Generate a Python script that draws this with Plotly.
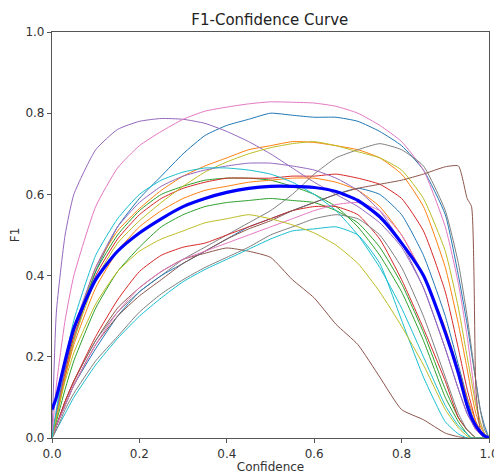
import plotly.graph_objects as go

# confidence grid shared by every curve
conf = [0, 0.01, 0.03, 0.05, 0.1, 0.15, 0.2, 0.25, 0.3, 0.35, 0.4, 0.45, 0.5, 0.55,
        0.6, 0.65, 0.7, 0.75, 0.8, 0.85, 0.9, 0.93, 0.95, 0.96, 0.97, 0.98, 0.99, 1.0]

# per-class F1 values
f1_purple_a = [0, 0.31, 0.50, 0.60, 0.71, 0.76, 0.78, 0.787, 0.785, 0.775, 0.755, 0.73, 0.70, 0.665,
               0.63, 0.60, 0.57, 0.53, 0.47, 0.37, 0.22, 0.12, 0.06, 0.04, 0.02, 0.01, 0, 0]
f1_pink_a = [0, 0.13, 0.29, 0.40, 0.57, 0.665, 0.72, 0.755, 0.785, 0.805, 0.815, 0.823, 0.828, 0.827,
             0.825, 0.817, 0.80, 0.77, 0.73, 0.66, 0.52, 0.38, 0.25, 0.17, 0.09, 0.04, 0.01, 0]
f1_blue_a = [0, 0.05, 0.15, 0.24, 0.41, 0.52, 0.59, 0.645, 0.70, 0.745, 0.77, 0.785, 0.80, 0.795,
             0.79, 0.79, 0.78, 0.755, 0.72, 0.66, 0.55, 0.40, 0.28, 0.21, 0.14, 0.07, 0.03, 0]
f1_orange_a = [0, 0.06, 0.17, 0.26, 0.42, 0.51, 0.565, 0.61, 0.645, 0.67, 0.69, 0.71, 0.72, 0.73,
               0.728, 0.72, 0.71, 0.69, 0.65, 0.57, 0.42, 0.28, 0.17, 0.11, 0.06, 0.03, 0.01, 0]
f1_olive_a = [0, 0.05, 0.15, 0.24, 0.39, 0.48, 0.535, 0.58, 0.62, 0.655, 0.68, 0.70, 0.715, 0.725,
              0.73, 0.72, 0.705, 0.69, 0.66, 0.59, 0.46, 0.32, 0.20, 0.14, 0.08, 0.04, 0.01, 0]
f1_gray_a = [0, 0.03, 0.09, 0.14, 0.24, 0.31, 0.36, 0.40, 0.44, 0.47, 0.50, 0.53, 0.56, 0.60,
             0.65, 0.69, 0.71, 0.725, 0.71, 0.67, 0.56, 0.43, 0.30, 0.22, 0.14, 0.07, 0.02, 0]
f1_brown_a = [0, 0.03, 0.09, 0.14, 0.24, 0.32, 0.37, 0.41, 0.44, 0.455, 0.468, 0.46, 0.445, 0.39,
              0.345, 0.28, 0.23, 0.15, 0.07, 0.045, 0.012, 0.003, 0, 0, 0, 0, 0, 0]
f1_cyan_a = [0, 0.02, 0.06, 0.10, 0.18, 0.245, 0.30, 0.345, 0.385, 0.415, 0.44, 0.465, 0.49, 0.51,
             0.515, 0.52, 0.50, 0.43, 0.29, 0.15, 0.04, 0.01, 0, 0, 0, 0, 0, 0]
f1_olive_b = [0, 0.05, 0.14, 0.21, 0.33, 0.41, 0.46, 0.49, 0.51, 0.53, 0.54, 0.55, 0.54, 0.525,
              0.505, 0.475, 0.43, 0.36, 0.275, 0.18, 0.07, 0.025, 0.005, 0, 0, 0, 0, 0]
f1_green_a = [0, 0.06, 0.17, 0.26, 0.41, 0.50, 0.56, 0.60, 0.62, 0.635, 0.64, 0.64, 0.635, 0.62,
              0.60, 0.57, 0.52, 0.45, 0.36, 0.24, 0.10, 0.04, 0.01, 0, 0, 0, 0, 0]
f1_red_a = [0, 0.06, 0.16, 0.25, 0.40, 0.49, 0.55, 0.59, 0.615, 0.63, 0.64, 0.64, 0.64, 0.645,
            0.645, 0.65, 0.64, 0.625, 0.59, 0.51, 0.36, 0.22, 0.12, 0.08, 0.04, 0.015, 0.005, 0]
f1_purple_b = [0, 0.06, 0.17, 0.27, 0.42, 0.52, 0.58, 0.62, 0.645, 0.66, 0.67, 0.677, 0.677, 0.67,
               0.66, 0.64, 0.61, 0.56, 0.48, 0.37, 0.22, 0.12, 0.06, 0.04, 0.02, 0.01, 0, 0]
f1_brown_b = [0, 0.03, 0.08, 0.13, 0.23, 0.30, 0.35, 0.39, 0.43, 0.46, 0.49, 0.515, 0.535, 0.56,
              0.58, 0.60, 0.615, 0.625, 0.635, 0.65, 0.668, 0.67, 0.59, 0.57, 0.12, 0.02, 0, 0]
f1_red_b = [0, 0.03, 0.09, 0.14, 0.25, 0.34, 0.41, 0.45, 0.47, 0.48, 0.50, 0.52, 0.54, 0.56,
            0.57, 0.57, 0.55, 0.49, 0.39, 0.27, 0.14, 0.05, 0.02, 0.01, 0, 0, 0, 0]
f1_gray_b = [0, 0.02, 0.07, 0.11, 0.19, 0.25, 0.31, 0.355, 0.39, 0.42, 0.445, 0.47, 0.50, 0.52,
             0.54, 0.55, 0.54, 0.50, 0.42, 0.30, 0.15, 0.06, 0.02, 0.01, 0, 0, 0, 0]
f1_cyan_b = [0, 0.07, 0.19, 0.29, 0.45, 0.54, 0.60, 0.635, 0.655, 0.665, 0.665, 0.66, 0.65, 0.63,
             0.60, 0.56, 0.50, 0.42, 0.32, 0.20, 0.08, 0.03, 0.01, 0, 0, 0, 0, 0]
f1_green_b = [0, 0.04, 0.12, 0.19, 0.32, 0.41, 0.47, 0.52, 0.55, 0.57, 0.58, 0.585, 0.59, 0.585,
              0.58, 0.56, 0.53, 0.47, 0.38, 0.26, 0.12, 0.05, 0.02, 0.01, 0, 0, 0, 0]
f1_blue_b = [0, 0.03, 0.08, 0.13, 0.22, 0.30, 0.36, 0.40, 0.43, 0.46, 0.49, 0.52, 0.54, 0.56,
             0.58, 0.60, 0.615, 0.60, 0.55, 0.45, 0.30, 0.18, 0.10, 0.06, 0.03, 0.01, 0, 0]
f1_pink_b = [0, 0.03, 0.08, 0.13, 0.23, 0.31, 0.37, 0.41, 0.44, 0.46, 0.48, 0.50, 0.52, 0.54,
             0.56, 0.575, 0.58, 0.56, 0.50, 0.40, 0.26, 0.15, 0.08, 0.05, 0.02, 0.01, 0, 0]
f1_orange_b = [0, 0.05, 0.15, 0.23, 0.37, 0.46, 0.52, 0.56, 0.59, 0.61, 0.62, 0.63, 0.635, 0.64,
               0.64, 0.63, 0.61, 0.57, 0.50, 0.40, 0.27, 0.17, 0.10, 0.07, 0.04, 0.02, 0.005, 0]

# mean over all classes (thick blue line)
f1_all = [0.07, 0.10, 0.19, 0.27, 0.39, 0.46, 0.505, 0.54, 0.57, 0.59, 0.605, 0.615, 0.62, 0.62,
          0.617, 0.607, 0.585, 0.545, 0.48, 0.40, 0.26, 0.16, 0.08, 0.05, 0.03, 0.015, 0.005, 0]

class_curves = [
    (f1_blue_a, "#1f77b4"), (f1_orange_a, "#ff7f0e"), (f1_green_a, "#2ca02c"),
    (f1_red_a, "#d62728"), (f1_purple_a, "#9467bd"), (f1_brown_a, "#8c564b"),
    (f1_pink_a, "#e377c2"), (f1_gray_a, "#7f7f7f"), (f1_olive_a, "#bcbd22"),
    (f1_cyan_a, "#17becf"), (f1_blue_b, "#1f77b4"), (f1_orange_b, "#ff7f0e"),
    (f1_green_b, "#2ca02c"), (f1_red_b, "#d62728"), (f1_purple_b, "#9467bd"),
    (f1_brown_b, "#8c564b"), (f1_pink_b, "#e377c2"), (f1_gray_b, "#7f7f7f"),
    (f1_olive_b, "#bcbd22"), (f1_cyan_b, "#17becf"),
]

fig = go.Figure()
for vals, col in class_curves:
    fig.add_trace(go.Scatter(x=conf, y=vals, mode="lines",
                             line=dict(color=col, width=1, shape="spline", smoothing=0.5),
                             showlegend=False))
fig.add_trace(go.Scatter(x=conf, y=f1_all, mode="lines",
                         line=dict(color="#0000ff", width=3.2, shape="spline", smoothing=0.6),
                         showlegend=False))

axis_style = dict(range=[0, 1], dtick=0.2, tickformat=".1f", showgrid=False, zeroline=False,
                  showline=True, linecolor="#555555", linewidth=1.2, mirror=True,
                  ticks="outside", ticklen=4, tickcolor="#555555", automargin=False,
                  tickfont=dict(size=12, color="#333333"))

# the page puts the figure 8 px in from the top-left corner
fig.update_layout(
    width=494, height=467,
    margin=dict(l=44, r=13, t=24, b=37),
    paper_bgcolor="white", plot_bgcolor="white",
    font=dict(family="DejaVu Sans", color="#333333"),
    title=dict(text="F1-Confidence Curve", x=0.53, xanchor="center", y=0.975, yanchor="middle",
               font=dict(size=15, color="#222222")),
    xaxis=dict(axis_style, title=dict(text="Confidence", font=dict(size=12), standoff=3)),
    yaxis=dict(axis_style, title=dict(text="F1", font=dict(size=12), standoff=10)),
)

fig.write_html("out.html")
